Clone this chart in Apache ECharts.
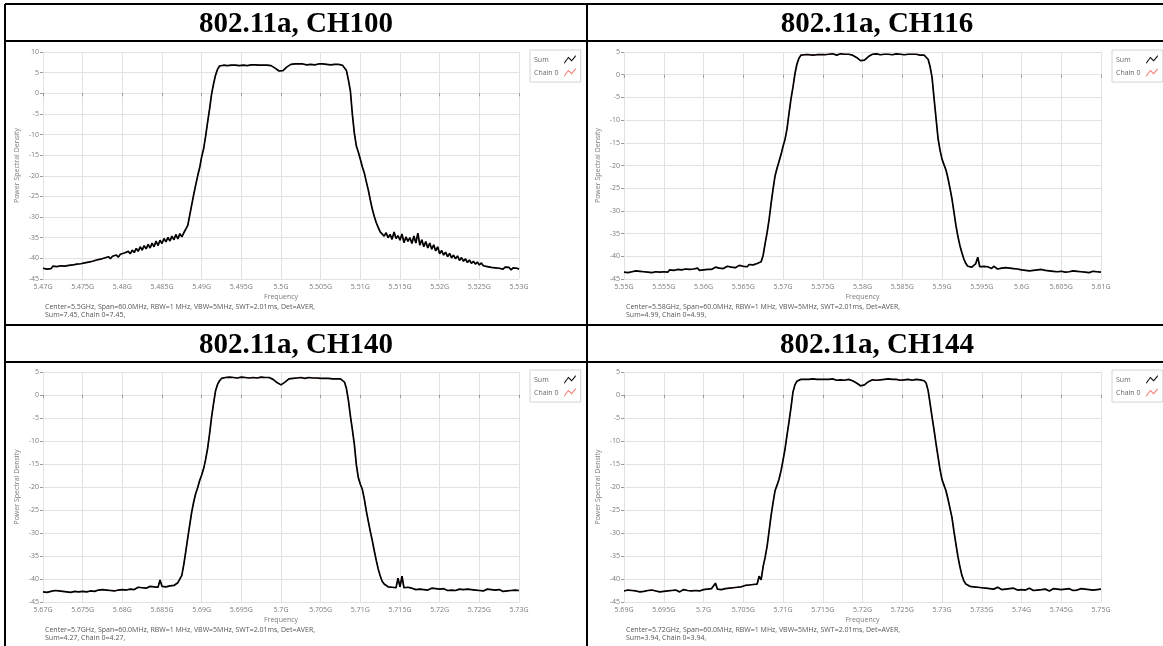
<!DOCTYPE html>
<html><head><meta charset="utf-8">
<script src="https://cdn.jsdelivr.net/npm/echarts@6/dist/echarts.min.js"></script>
<style>html,body{margin:0;padding:0;background:#fff}#c{width:1163px;height:646px}</style>
</head><body><div id="c"></div>
<script>
// ---------------- DATA ----------------
const titles = ['802.11a, CH100', '802.11a, CH116', '802.11a, CH140', '802.11a, CH144'];
const startMHz = [5470, 5550, 5670, 5690];   // left edge of each span (Span = 60 MHz)
const spanMHz = 60;
const stepMHz = 0.25;                          // trace point spacing
const yMin = [-45, -45, -45, -45];
const yMax = [10, 5, 5, 5];
const footLine1 = [
  'Center=5.5GHz, Span=60.0MHz, RBW=1 MHz, VBW=5MHz, SWT=2.01ms, Det=AVER,',
  'Center=5.58GHz, Span=60.0MHz, RBW=1 MHz, VBW=5MHz, SWT=2.01ms, Det=AVER,',
  'Center=5.7GHz, Span=60.0MHz, RBW=1 MHz, VBW=5MHz, SWT=2.01ms, Det=AVER,',
  'Center=5.72GHz, Span=60.0MHz, RBW=1 MHz, VBW=5MHz, SWT=2.01ms, Det=AVER,'
];
const footLine2 = ['Sum=7.45, Chain 0=7.45,', 'Sum=4.99, Chain 0=4.99,', 'Sum=4.27, Chain 0=4.27,', 'Sum=3.94, Chain 0=3.94,'];
const legendNames = ['Sum', 'Chain 0'];

// PSD traces (dB), one value every 0.25 MHz from the start of the span
const ch100 = [
-42.4,-42.1,-42.6,-42.2,-42.5,-41.9,-42.3,-42.0,-42.4,-41.8,-42.2,-41.9,-42.3,-41.7,-42.0,-41.6,-41.9,-41.4,-41.8,-41.3,
-41.6,-41.1,-41.4,-40.9,-41.2,-40.7,-41.0,-40.4,-40.8,-40.2,-40.6,-39.9,-40.3,-39.6,-40.1,-39.5,-39.9,-39.2,-39.7,-39.0,
-39.4,-38.7,-39.1,-38.3,-38.9,-38.0,-38.6,-37.6,-38.3,-37.2,-38.0,-36.9,-37.7,-36.6,-37.5,-36.3,-37.2,-35.8,-36.9,-35.6,
-36.4,-35.2,-36.0,-34.9,-35.8,-34.6,-35.5,-34.2,-35.3,-34.0,-34.8,-33.8,-33.6,-32.0,-29.5,-27.0,-24.5,-22.2,-20.0,-18.0,
-15.4,-13.4,-10.4,-7.0,-3.8,-0.2,2.3,4.4,5.8,6.6,6.9,6.8,6.9,6.7,6.9,6.8,6.9,6.8,6.9,6.7,
6.9,6.8,6.9,6.7,6.8,6.9,6.8,6.9,6.7,6.8,6.9,6.8,6.9,6.8,6.8,6.7,6.5,6.1,5.7,5.4,
5.3,5.5,5.9,6.4,6.8,7.0,7.0,7.1,6.9,7.1,7.0,7.1,7.0,6.9,7.1,7.0,7.1,6.9,7.0,7.1,
7.0,7.1,7.0,7.0,7.1,6.9,7.0,7.0,6.9,7.0,6.9,6.8,6.5,5.5,3.2,0.5,-5.2,-9.7,-12.8,-14.3,
-16.0,-17.8,-19.3,-21.4,-23.4,-25.8,-28.0,-29.8,-31.3,-32.5,-33.6,-33.9,-34.6,-33.8,-35.0,-34.2,-35.4,-33.6,-35.2,-34.5,
-35.6,-34.1,-36.2,-34.8,-35.9,-35.0,-36.4,-34.6,-36.3,-33.9,-36.8,-35.5,-37.2,-35.9,-37.5,-36.3,-37.8,-36.7,-38.2,-37.2,
-38.9,-38.1,-39.2,-38.5,-39.6,-38.8,-39.9,-39.2,-40.1,-39.4,-40.5,-39.8,-40.7,-40.1,-41.0,-40.4,-41.2,-40.7,-41.4,-40.9,
-41.6,-41.1,-41.8,-41.4,-42.0,-41.6,-42.2,-41.8,-42.3,-41.9,-42.4,-42.0,-42.6,-42.1,-42.5,-42.2,-42.8,-42.3,-42.7,-42.4,
-42.6];
const ch116 = [
-43.5,-43.2,-43.6,-43.3,-43.4,-43.7,-43.2,-43.5,-43.3,-43.6,-43.4,-43.2,-43.5,-43.3,-43.6,-43.2,-43.4,-43.3,-43.5,-43.1,
-43.4,-43.2,-43.5,-43.0,-43.3,-43.1,-43.4,-42.9,-43.2,-43.0,-43.3,-42.8,-43.1,-42.9,-43.2,-42.8,-43.0,-42.6,-43.1,-42.9,
-43.0,-42.7,-42.9,-42.6,-42.9,-42.7,-42.4,-42.8,-42.6,-42.3,-42.7,-42.5,-42.2,-42.6,-42.4,-42.1,-42.5,-42.3,-42.0,-42.4,
-42.2,-42.0,-42.3,-41.8,-42.1,-41.9,-42.0,-41.6,-41.5,-41.2,-39.8,-37.2,-34.8,-31.9,-28.4,-25.2,-22.3,-20.6,-19.1,-17.6,
-15.8,-14.3,-12.0,-8.6,-5.4,-2.8,0.2,2.3,3.6,4.3,4.5,4.4,4.6,4.4,4.5,4.3,4.5,4.4,4.6,4.4,
4.5,4.4,4.6,4.5,4.4,4.6,4.5,4.3,4.5,4.6,4.4,4.5,4.4,4.5,4.4,4.3,4.1,3.8,3.4,3.1,
3.0,3.2,3.6,4.0,4.3,4.5,4.4,4.6,4.5,4.4,4.6,4.5,4.4,4.5,4.6,4.4,4.5,4.6,4.4,4.5,
4.5,4.4,4.6,4.5,4.4,4.5,4.3,4.5,4.4,4.3,4.4,4.3,4.2,3.4,1.8,-0.6,-5.2,-9.6,-14.0,-16.6,
-18.6,-19.8,-21.0,-22.8,-25.0,-27.3,-30.2,-33.2,-35.6,-37.6,-39.2,-40.6,-41.6,-42.2,-42.0,-42.4,-42.1,-41.6,-40.2,-42.3,
-42.5,-42.2,-42.6,-42.3,-42.4,-42.7,-42.2,-42.5,-42.8,-42.4,-42.6,-42.9,-42.5,-42.7,-42.6,-42.9,-42.7,-43.0,-42.8,-42.6,
-43.0,-42.8,-43.1,-42.9,-43.2,-42.9,-43.1,-43.3,-43.0,-43.2,-42.9,-43.3,-43.1,-43.4,-43.2,-43.0,-43.3,-43.1,-43.4,-43.2,
-43.3,-43.1,-43.5,-43.2,-43.4,-43.6,-43.2,-43.4,-43.3,-43.6,-43.4,-43.2,-43.5,-43.3,-43.6,-43.4,-43.3,-43.5,-43.4,-43.6,
-43.5];
const ch140 = [
-42.8,-42.5,-42.9,-42.6,-42.7,-43.0,-42.5,-42.8,-42.6,-42.9,-42.7,-42.4,-42.8,-42.6,-42.9,-42.5,-42.7,-42.4,-42.8,-42.6,
-42.7,-42.4,-42.8,-42.5,-42.6,-42.3,-42.7,-42.5,-42.4,-42.7,-42.3,-42.6,-42.4,-42.2,-42.5,-42.3,-42.6,-42.2,-42.4,-42.3,
-42.3,-42.1,-42.4,-42.0,-42.2,-41.9,-42.3,-42.0,-41.8,-42.1,-41.9,-41.7,-42.0,-41.8,-41.6,-41.9,-41.7,-41.5,-41.8,-40.2,
-41.6,-41.4,-41.7,-41.3,-41.5,-41.2,-41.4,-41.0,-40.8,-40.5,-39.2,-36.8,-34.0,-31.0,-28.2,-25.4,-23.2,-21.4,-20.1,-18.6,
-17.4,-16.0,-14.0,-11.6,-8.4,-4.8,-1.8,0.9,2.3,3.1,3.6,3.7,3.8,3.7,3.9,3.7,3.8,3.9,3.7,3.8,
3.9,3.7,3.8,3.9,3.7,3.8,3.8,3.9,3.7,3.8,3.9,3.7,3.8,3.7,3.8,3.6,3.4,3.1,2.7,2.3,
2.2,2.4,2.8,3.2,3.5,3.7,3.6,3.8,3.7,3.6,3.8,3.7,3.6,3.7,3.8,3.6,3.7,3.6,3.7,3.8,
3.6,3.7,3.6,3.7,3.6,3.7,3.5,3.6,3.5,3.6,3.5,3.4,2.8,1.4,-1.2,-4.6,-7.6,-10.8,-15.2,-18.0,
-19.4,-20.5,-22.6,-25.2,-27.4,-29.6,-31.6,-33.8,-35.9,-37.8,-39.3,-40.5,-41.1,-41.4,-41.7,-41.5,-41.8,-41.6,-41.9,-39.8,
-41.7,-39.4,-41.9,-42.1,-41.8,-42.2,-42.0,-41.9,-42.3,-42.1,-42.2,-41.9,-42.3,-42.1,-42.4,-42.2,-42.0,-42.3,-42.1,-42.4,
-42.2,-42.4,-42.1,-42.3,-42.5,-42.2,-42.4,-42.1,-42.5,-42.3,-42.2,-42.5,-42.3,-42.6,-42.2,-42.4,-42.3,-42.6,-42.4,-42.2,
-42.5,-42.3,-42.6,-42.4,-42.2,-42.5,-42.3,-42.7,-42.4,-42.6,-42.3,-42.5,-42.7,-42.4,-42.6,-42.3,-42.5,-42.7,-42.4,-42.6,
-42.5];
const ch144 = [
-42.6,-42.8,-42.4,-42.7,-42.5,-42.9,-42.6,-42.4,-42.8,-42.5,-42.7,-42.9,-42.5,-42.7,-42.4,-42.8,-42.6,-42.5,-42.8,-42.6,
-42.7,-42.4,-42.6,-42.9,-42.5,-42.7,-42.4,-42.6,-42.8,-42.5,-42.3,-42.7,-42.5,-42.4,-42.6,-42.3,-42.5,-42.2,-42.6,-42.4,
-42.3,-42.5,-42.2,-42.4,-42.1,-42.3,-40.9,-42.2,-42.0,-42.3,-41.9,-42.1,-41.8,-42.0,-41.7,-41.9,-41.6,-41.8,-41.5,-41.7,
-41.6,-41.4,-41.6,-41.3,-41.5,-41.2,-41.4,-41.1,-39.4,-40.2,-37.3,-35.3,-32.9,-29.6,-26.2,-23.4,-20.8,-19.6,-18.3,-16.5,
-14.2,-11.8,-8.8,-5.9,-2.8,0.6,2.2,3.0,3.3,3.4,3.3,3.4,3.2,3.4,3.3,3.5,3.3,3.4,3.2,3.4,
3.3,3.4,3.2,3.4,3.3,3.5,3.3,3.2,3.4,3.3,3.4,3.2,3.3,3.4,3.2,3.1,2.9,2.6,2.3,2.0,
2.0,2.2,2.6,2.9,3.2,3.3,3.4,3.2,3.4,3.3,3.2,3.4,3.3,3.5,3.3,3.4,3.2,3.4,3.3,3.2,
3.4,3.3,3.2,3.4,3.3,3.2,3.3,3.4,3.2,3.3,3.2,3.1,2.6,1.0,-1.8,-4.8,-7.6,-10.6,-13.4,-16.2,
-18.4,-19.6,-20.8,-22.6,-24.6,-26.6,-29.6,-32.4,-35.1,-37.3,-39.2,-40.4,-41.1,-41.4,-41.6,-41.4,-41.7,-41.5,-41.8,-41.6,
-41.9,-41.7,-42.0,-41.8,-42.1,-41.9,-42.2,-42.0,-41.8,-42.1,-42.3,-42.0,-42.2,-41.9,-42.1,-42.3,-42.0,-42.2,-42.4,-42.1,
-42.3,-42.1,-42.4,-42.2,-42.0,-42.3,-42.5,-42.2,-42.4,-42.1,-42.3,-42.5,-42.2,-42.4,-42.6,-42.3,-42.1,-42.4,-42.2,-42.5,
-42.3,-42.5,-42.2,-42.4,-42.1,-42.3,-42.5,-42.2,-42.4,-42.3,-42.1,-42.4,-42.2,-42.5,-42.3,-42.1,-42.4,-42.2,-42.3,-42.1,
-42.2];
const traces = [ch100, ch116, ch140, ch144];

// ---------------- LAYOUT ----------------
const gridBoxes = [
  {left: 43, top: 52, width: 476, height: 227},
  {left: 624, top: 52, width: 477, height: 227},
  {left: 43, top: 372, width: 476, height: 230},
  {left: 624, top: 372, width: 477, height: 230}
];
const titlePos = [{x: 291, y: 5}, {x: 872, y: 5}, {x: 291, y: 326}, {x: 872, y: 326}];
const FONT = '"Open Sans", "Noto Sans", sans-serif';
const lblColor = '#7a7a7a';
const sumColor = '#000000';
const chainColor = '#f07a6a';
const zig = 'path://M0,9 L5,2 L9,6 L14,0 L14,2 L9,8 L5,4 L0,11 Z';

const grid = [], xAxis = [], yAxis = [], series = [], title = [], legend = [], graphic = [];
for (let i = 0; i < 4; i++) {
  const g = gridBoxes[i];
  grid.push({left: g.left, top: g.top, width: g.width, height: g.height, containLabel: false, show: false});
  xAxis.push({
    type: 'value', gridIndex: i, min: startMHz[i], max: startMHz[i] + spanMHz, interval: 5,
    name: 'Frequency', nameLocation: 'middle', nameGap: 14,
    nameTextStyle: {fontSize: 7, color: lblColor, fontFamily: FONT},
    axisLine: {show: false},
    axisTick: {show: true, length: 3, lineStyle: {color: '#9a9a9a'}},
    axisLabel: {fontSize: 7, color: lblColor, fontFamily: FONT, margin: 4,
      formatter: v => (v / 1000) + 'G'},
    splitLine: {show: true, lineStyle: {color: '#e2e2e2', width: 1}}
  });
  yAxis.push({
    type: 'value', gridIndex: i, min: yMin[i], max: yMax[i], interval: 5,
    name: 'Power Spectral Density', nameLocation: 'middle', nameGap: 23, nameRotate: 90,
    nameTextStyle: {fontSize: 7, color: lblColor, fontFamily: FONT},
    axisLine: {show: false},
    axisTick: {show: true, length: 3, lineStyle: {color: '#9a9a9a'}},
    axisLabel: {fontSize: 7, color: lblColor, fontFamily: FONT, margin: 4},
    splitLine: {show: true, lineStyle: {color: '#e2e2e2', width: 1}}
  });
  const pts = traces[i].map((v, k) => [startMHz[i] + k * stepMHz, v]);
  series.push({
    name: legendNames[1], type: 'line', xAxisIndex: i, yAxisIndex: i, data: pts,
    showSymbol: false, symbol: 'none', silent: true, color: chainColor,
    lineStyle: {color: chainColor, width: 1}, z: 2
  });
  series.push({
    name: legendNames[0], type: 'line', xAxisIndex: i, yAxisIndex: i, data: pts,
    showSymbol: false, symbol: 'none', silent: true, color: sumColor,
    lineStyle: {color: sumColor, width: 1.7}, z: 3
  });
  title.push({
    text: titles[i], left: titlePos[i].x, top: titlePos[i].y, textAlign: 'center',
    textStyle: {fontFamily: '"Liberation Serif", "Times New Roman", serif', fontWeight: 'bold', fontSize: 29, color: '#000'}
  });
  legend.push({
    left: g.left + g.width + 11, top: g.top - 2, orient: 'vertical', align: 'right',
    selectedMode: false, itemWidth: 14, itemHeight: 9, itemGap: 4,
    padding: [5, 5, 5, 4], borderColor: '#d4d4d4', borderWidth: 1, backgroundColor: '#fff',
    formatter: name => '{n|' + name + '}',
    textStyle: {fontSize: 7, color: '#666', fontFamily: FONT,
      rich: {n: {width: 24, align: 'left', fontSize: 7, color: '#666', fontFamily: FONT}}},
    data: [{name: legendNames[0], icon: zig}, {name: legendNames[1], icon: zig}]
  });
  graphic.push({type: 'text', left: g.left + 2, top: g.top + g.height + 24,
    style: {text: footLine1[i], fontSize: 7, fill: '#555', fontFamily: FONT}, silent: true});
  graphic.push({type: 'text', left: g.left + 2, top: g.top + g.height + 32,
    style: {text: footLine2[i], fontSize: 7, fill: '#555', fontFamily: FONT}, silent: true});
}
// table borders
const hl = [4, 41, 325, 362];
hl.forEach(y => graphic.push({type: 'line', silent: true, z: 100,
  shape: {x1: 5, y1: y, x2: 1163, y2: y}, style: {stroke: '#000', lineWidth: 2}}));
[5, 587].forEach(x => graphic.push({type: 'line', silent: true, z: 100,
  shape: {x1: x, y1: 4, x2: x, y2: 646}, style: {stroke: '#000', lineWidth: 2}}));

const chart = echarts.init(document.getElementById('c'), null, {renderer: 'canvas'});
chart.setOption({
  backgroundColor: '#fff', animation: false,
  title, legend, grid, xAxis, yAxis, series, graphic
});
</script></body></html>
